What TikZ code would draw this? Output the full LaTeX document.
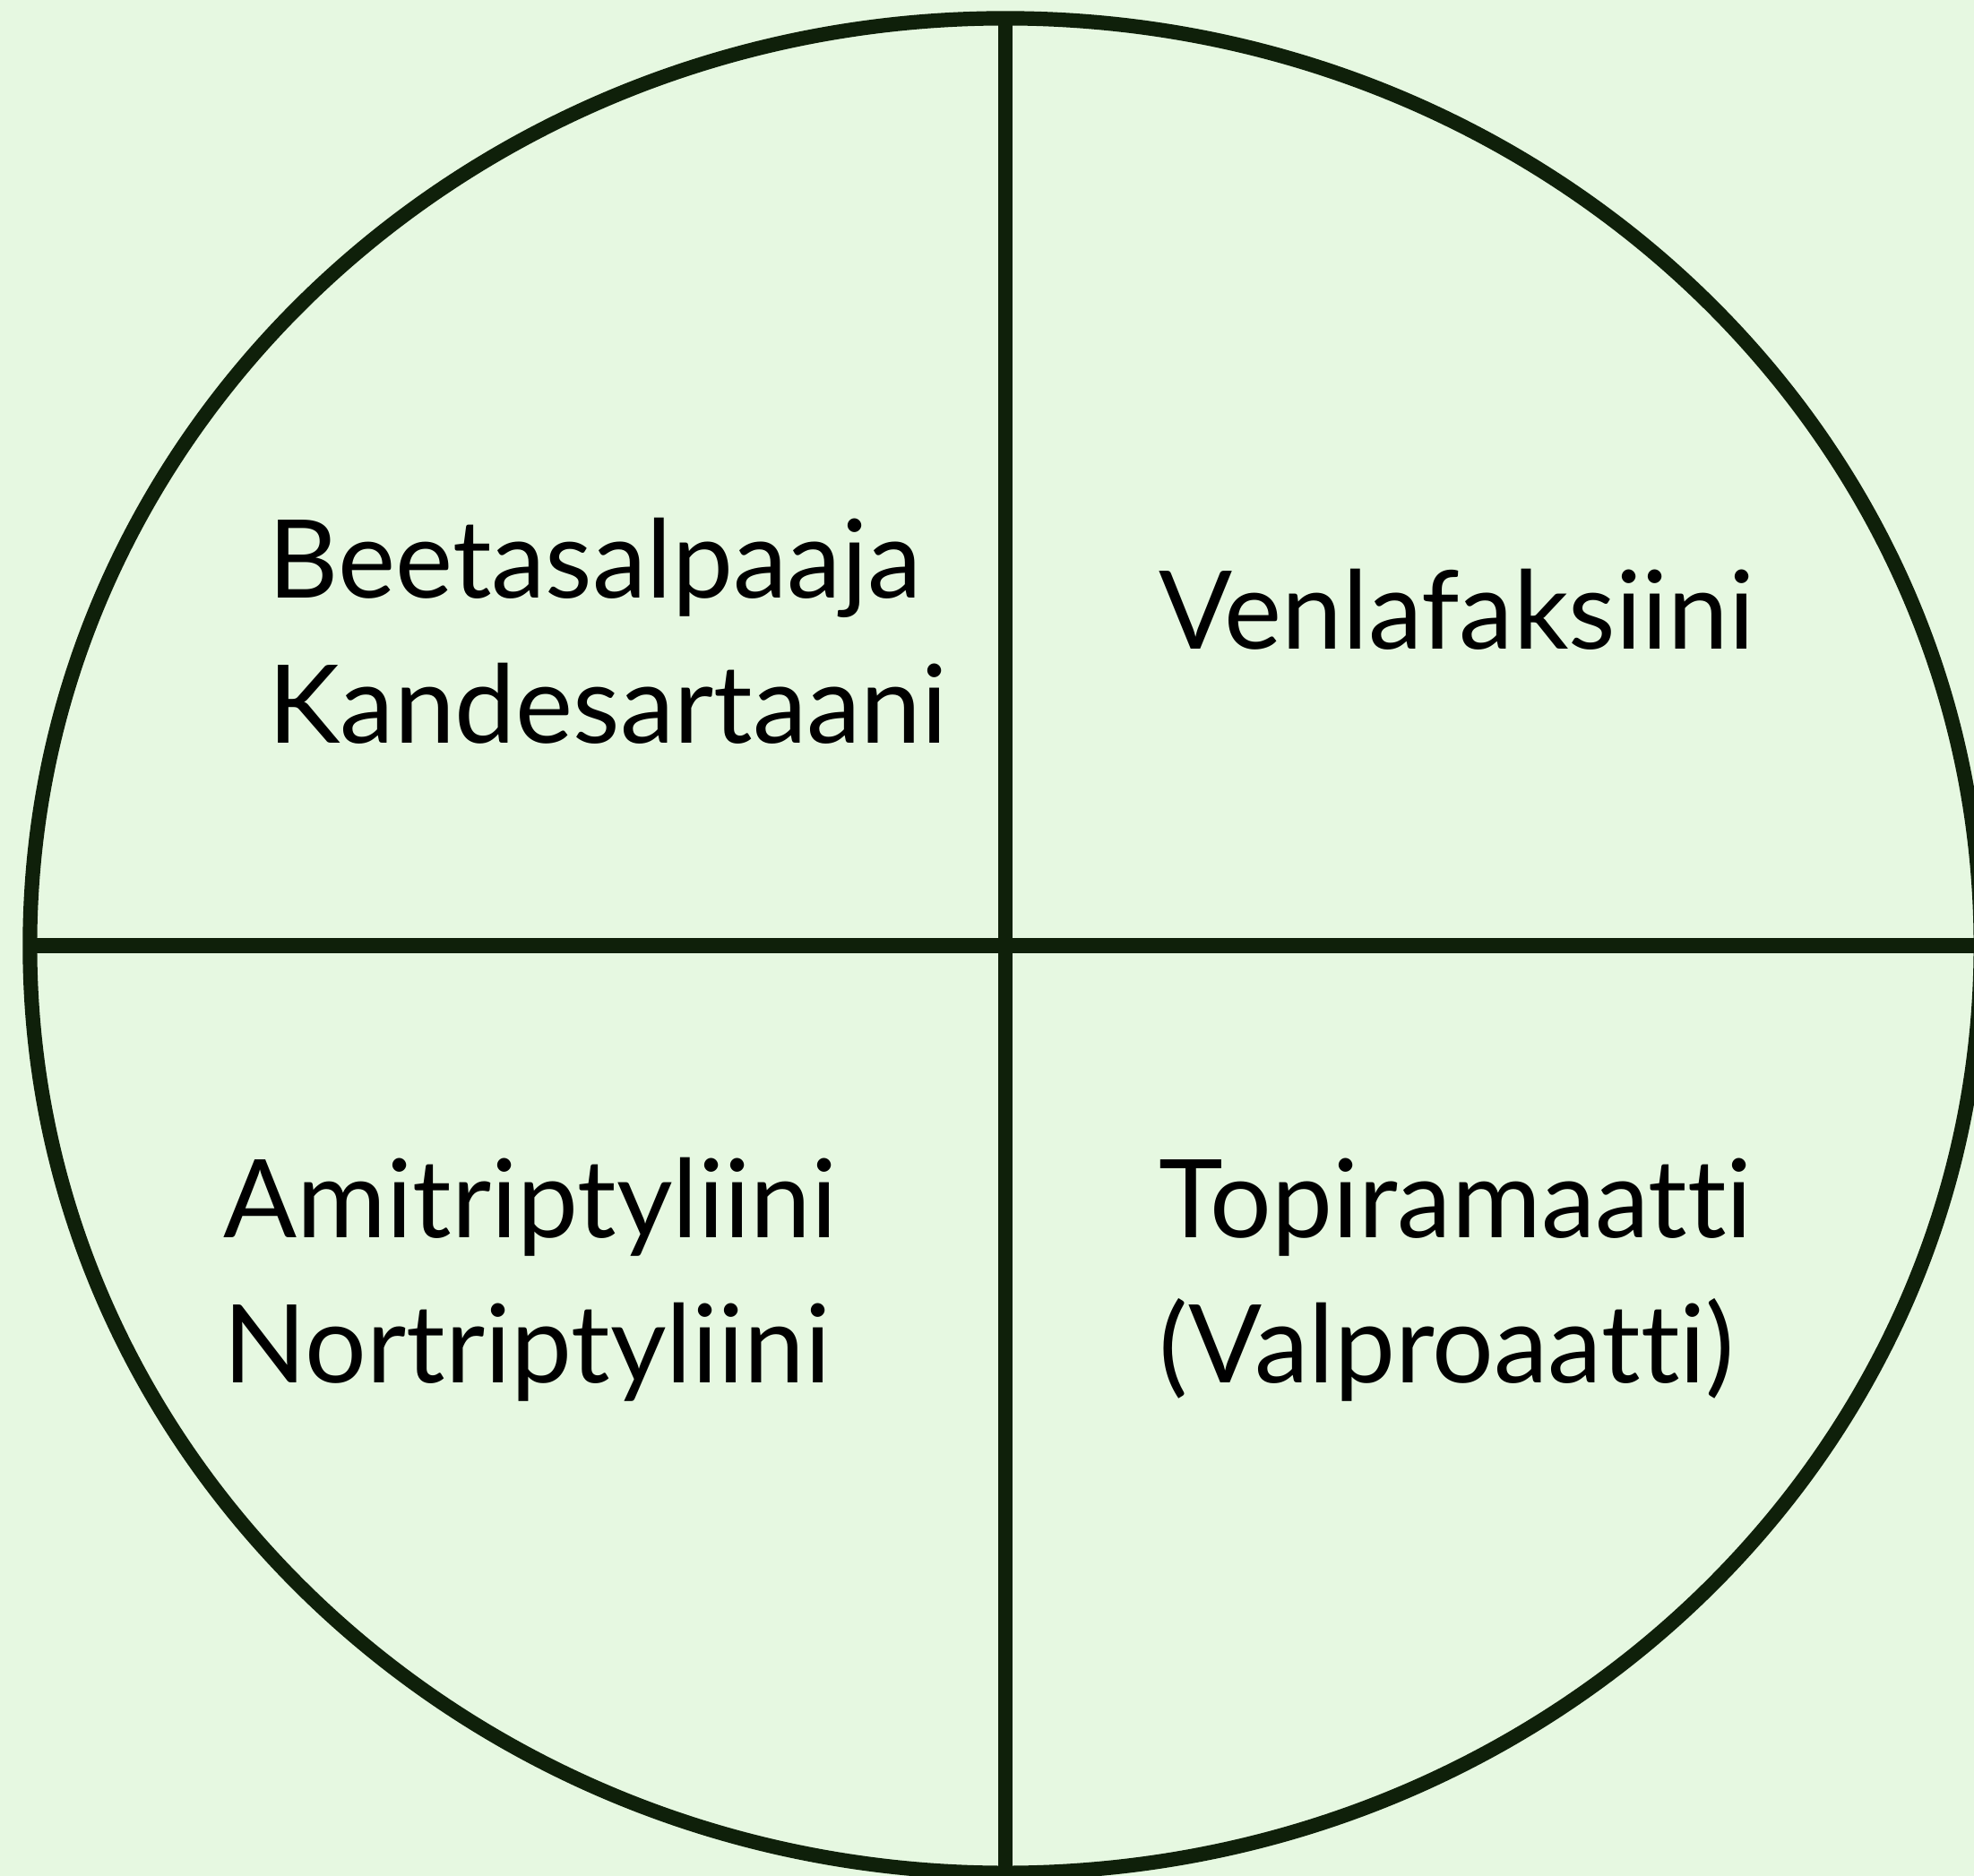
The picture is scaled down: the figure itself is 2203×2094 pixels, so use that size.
\documentclass[tikz,border=0pt]{standalone}
\usepackage{fontspec}
\setmainfont{Lato}[Ligatures={NoCommon,NoContextual}]
\usepackage{tikz}
\usetikzlibrary{shapes.geometric}

\definecolor{bgmint}{HTML}{E6F8E1}
\definecolor{rimgreen}{HTML}{0F200A}

\begin{document}
\begin{tikzpicture}[
  x=0.01cm, y=-0.01cm,
  rim/.style={draw=rimgreen, line width=4.6pt},
  oval/.style={rim, ellipse, minimum width=21.76cm, minimum height=20.69cm,
               inner sep=0pt, outer sep=0pt},
  drug/.style={anchor=base west, align=left, inner sep=0pt, text=black,
               font=\fontsize{34.5}{46}\selectfont},
]

% ── tausta ja rajaus ──
\fill[bgmint] (0,0) rectangle (2203,2094);
\useasboundingbox (0,0) rectangle (2203,2094);
\clip (0,0) rectangle (2203,2094);

% ── ellipsi ja nelikentän viivat ──
\node[oval] (oval) at (1122,1055.5) {};
\draw[rim] (oval.west) -- (oval.east);
\draw[rim] (oval.north) -- (oval.south);

% ── lääkkeet (ankkuri = alimman rivin perusviiva) ──
\node[drug] (nw) at (299,829)  {Beetasalpaaja\\Kandesartaani};
\node[drug] (ne) at (1293,724) {Venlafaksiini};
\node[drug] (sw) at (249,1543) {Amitriptyliini\\Nortriptyliini};
\node[drug] (se) at (1293,1543) {Topiramaatti\\(Valproaatti)};

\end{tikzpicture}
\end{document}
